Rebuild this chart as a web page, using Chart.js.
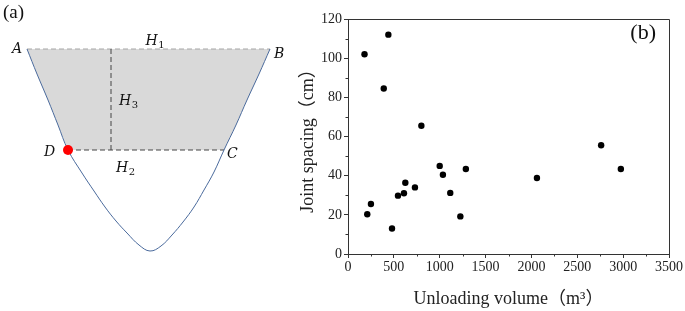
<!DOCTYPE html>
<html>
<head>
<meta charset="utf-8">
<script src="https://cdn.jsdelivr.net/npm/chart.js@4.4.1/dist/chart.umd.min.js"></script>
<style>
  html, body { margin: 0; padding: 0; background: #fff; }
  #wrap { position: relative; width: 685px; height: 311px; }
  #boxA { position: absolute; left: 0; top: 0; width: 290px; height: 311px; }
  #boxB { position: absolute; left: 290px; top: 0; width: 395px; height: 311px; }
</style>
</head>
<body>
<div id="wrap">
  <div id="boxA"><canvas id="chartA" width="290" height="311"></canvas></div>
  <div id="boxB"><canvas id="chartB" width="395" height="311"></canvas></div>
</div>
<script>
// ---- panel (b): joint spacing vs unloading volume ----
const volume  = [180, 440, 390, 800, 2760, 210, 250, 480, 545, 610, 625, 730, 1000, 1035, 1115, 1225, 1285, 2060, 2975];
const spacing = [102, 112, 84.5, 65.5, 55.5, 20.3, 25.5, 13, 29.8, 31, 36.4, 34, 45, 40.5, 31.2, 19.2, 43.4, 38.8, 43.4];
const xTicks = [0, 500, 1000, 1500, 2000, 2500, 3000, 3500];
const yTicks = [0, 20, 40, 60, 80, 100, 120];

// ---- panel (a): slope profile ----
const profileX     = [27, 37, 48, 58, 68, 82, 94, 105, 116, 127, 139, 150, 161, 172, 183, 194, 204, 214, 224, 236, 247, 259, 270];
const profileDepth = [49, 74, 100, 125, 150, 173, 191, 207, 221, 233, 245, 251, 246, 235, 222, 207, 190, 172, 150, 125, 100, 74, 49];
const iA = 0, iD = 4, iC = 18, iB = 22;
const h3X = 111;

const serif = '"Liberation Serif", "Noto Sans CJK SC", serif';
const pt = (i) => ({ x: profileX[i], y: profileDepth[i] });

// shaded unloading zone: D -> A along left side, B -> C along right side
const shade = [];
for (let i = iD; i >= iA; i--) shade.push(pt(i));
for (let i = iB; i >= iC; i--) shade.push(pt(i));

const labelsA = {
  id: 'labelsA',
  afterDatasetsDraw(chart) {
    const { ctx } = chart;
    const xs = chart.scales.x, ys = chart.scales.y;
    const px = (i) => xs.getPixelForValue(profileX[i]);
    const py = (i) => ys.getPixelForValue(profileDepth[i]);
    ctx.save();
    ctx.fillStyle = '#111';
    ctx.textBaseline = 'alphabetic';
    ctx.font = '19px ' + serif;
    ctx.fillText('(a)', 3, 18);
    const it = '14px "DejaVu Serif", serif';
    const put = (txt, sub, x, y) => {
      ctx.font = 'italic ' + it;
      ctx.fillText(txt, x, y);
      if (sub) {
        const w = ctx.measureText(txt).width;
        ctx.font = '10px "DejaVu Serif", serif';
        ctx.fillText(sub, x + w + 0.5, y + 3);
      }
    };
    put('A', '', px(iA) - 15, py(iA) + 4);
    put('B', '', px(iB) + 4, py(iB) + 9);
    put('D', '', px(iD) - 24, py(iD) + 6);
    put('C', '', px(iC) + 3, py(iC) + 8);
    const midTop = xs.getPixelForValue((profileX[iA] + profileX[iB]) / 2);
    put('H', '1', midTop - 3, py(iA) - 4);
    put('H', '3', xs.getPixelForValue(h3X) + 8, (py(iA) + py(iD)) / 2 + 5);
    put('H', '2', xs.getPixelForValue(h3X) + 5, py(iD) + 22);
    ctx.restore();
  }
};

new Chart(document.getElementById('chartA'), {
  type: 'scatter',
  data: {
    datasets: [
      { data: shade, showLine: true, fill: 'shape', backgroundColor: '#d9d9d9', borderWidth: 0, pointRadius: 0, tension: 0, order: 9 },
      { data: [pt(iA), pt(iB)], showLine: true, borderColor: '#a6a6a6', borderWidth: 1, borderDash: [5, 3], pointRadius: 0, order: 5 },
      { data: [pt(iD), pt(iC)], showLine: true, borderColor: '#444', borderWidth: 1, borderDash: [5, 3], pointRadius: 0, order: 4 },
      { data: [{ x: h3X, y: profileDepth[iA] }, { x: h3X, y: profileDepth[iD] }], showLine: true, borderColor: '#444', borderWidth: 1, borderDash: [5, 3], pointRadius: 0, order: 4 },
      { data: profileX.map((x, i) => pt(i)), showLine: true, borderColor: '#4a6a9c', borderWidth: 1, pointRadius: 0, tension: 0.4, order: 2 },
      { data: [pt(iD)], pointRadius: 5, backgroundColor: '#ff0000', borderWidth: 0, order: 1 }
    ]
  },
  options: {
    responsive: false,
    animation: false,
    events: [],
    layout: { padding: 0, autoPadding: false },
    plugins: { legend: { display: false }, tooltip: { enabled: false } },
    scales: {
      x: { type: 'linear', display: false, min: 0, max: 290 },
      y: { type: 'linear', display: false, min: 0, max: 311, reverse: true }
    }
  },
  plugins: [labelsA]
});

const frameB = {
  id: 'frameB',
  afterDraw(chart) {
    const { ctx, chartArea: a } = chart;
    const xs = chart.scales.x, ys = chart.scales.y;
    ctx.save();
    ctx.strokeStyle = '#333';
    ctx.lineWidth = 1;
    ctx.beginPath();
    ctx.moveTo(a.left, a.top + 0.5);
    ctx.lineTo(a.right + 0.5, a.top + 0.5);
    ctx.lineTo(a.right + 0.5, a.bottom);
    // minor ticks
    for (let v = 250; v < 3500; v += 500) {
      const x = Math.round(xs.getPixelForValue(v)) + 0.5;
      ctx.moveTo(x, a.bottom);
      ctx.lineTo(x, a.bottom + 2.5);
    }
    for (let v = 10; v < 120; v += 20) {
      const y = Math.round(ys.getPixelForValue(v)) + 0.5;
      ctx.moveTo(a.left, y);
      ctx.lineTo(a.left - 2.5, y);
    }
    ctx.stroke();
    ctx.fillStyle = '#111';
    ctx.font = '22px ' + serif;
    ctx.textAlign = 'right';
    ctx.textBaseline = 'alphabetic';
    ctx.fillText('(b)', a.right - 13, a.top + 20);
    ctx.restore();
  }
};

new Chart(document.getElementById('chartB'), {
  type: 'scatter',
  data: {
    datasets: [{
      data: volume.map((v, i) => ({ x: v, y: spacing[i] })),
      pointRadius: 3.2,
      backgroundColor: '#000',
      borderColor: '#000',
      borderWidth: 0
    }]
  },
  options: {
    responsive: false,
    animation: false,
    events: [],
    layout: { padding: { top: 19, right: 16, left: 0, bottom: 0 }, autoPadding: false },
    plugins: { legend: { display: false }, tooltip: { enabled: false } },
    scales: {
      x: {
        type: 'linear', min: 0, max: 3500,
        afterBuildTicks: (s) => { s.ticks = xTicks.map(v => ({ value: v })); },
        afterFit: (s) => { s.height = 57; },
        ticks: { autoSkip: false, maxRotation: 0, padding: 1, color: '#222', font: { family: serif, size: 14 }, callback: (v) => String(v) },
        grid: { drawOnChartArea: false, tickLength: 4, color: '#333' },
        border: { color: '#333', width: 1 },
        title: { display: true, text: 'Unloading volume（m³）', color: '#222', font: { family: serif, size: 18 }, padding: { top: 0, bottom: 1 } }
      },
      y: {
        type: 'linear', min: 0, max: 120,
        afterBuildTicks: (s) => { s.ticks = yTicks.map(v => ({ value: v })); },
        afterFit: (s) => { s.width = 58; },
        ticks: { padding: 2, color: '#222', font: { family: serif, size: 14 }, callback: (v) => String(v) },
        grid: { drawOnChartArea: false, tickLength: 4, color: '#333' },
        border: { color: '#333', width: 1 },
        title: { display: true, text: 'Joint spacing（cm）', color: '#222', font: { family: serif, size: 18 }, padding: { top: 7, bottom: 0 } }
      }
    }
  },
  plugins: [frameB]
});
</script>
</body>
</html>
